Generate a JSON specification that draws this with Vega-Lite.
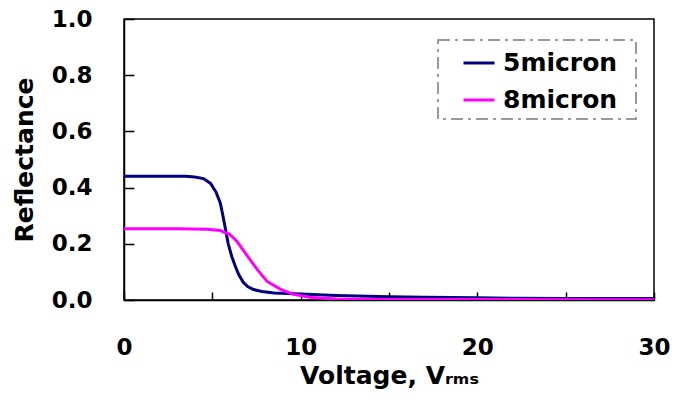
{
  "$schema": "https://vega.github.io/schema/vega-lite/v6.json",
  "width": 530,
  "height": 281,
  "autosize": {"type": "none"},
  "padding": {"left": 124, "top": 19, "right": 21, "bottom": 101},
  "background": "white",
  "config": {
    "view": {"stroke": "black", "strokeWidth": 1.5},
    "font": "DejaVu Sans",
    "axis": {
      "grid": false,
      "domainColor": "black",
      "domainWidth": 1.5,
      "tickColor": "black",
      "tickWidth": 1.5,
      "labelFont": "DejaVu Sans",
      "labelFontSize": 23,
      "labelFontWeight": "bold",
      "labelColor": "black",
      "titleFont": "DejaVu Sans",
      "titleFontSize": 25,
      "titleFontWeight": "bold",
      "titleColor": "black"
    },
    "legend": {
      "strokeColor": "#999999",
      "strokeWidth": 2,
      "strokeDash": [12, 5, 3, 5],
      "labelFont": "DejaVu Sans",
      "labelFontSize": 25,
      "labelFontWeight": "bold",
      "labelColor": "black"
    }
  },
  "data": {
    "values": [
      {"v": 0, "r": 0.44, "s": "5micron"},
      {"v": 2, "r": 0.44, "s": "5micron"},
      {"v": 3.5, "r": 0.44, "s": "5micron"},
      {"v": 4.0, "r": 0.438, "s": "5micron"},
      {"v": 4.5, "r": 0.432, "s": "5micron"},
      {"v": 4.9, "r": 0.415, "s": "5micron"},
      {"v": 5.2, "r": 0.385, "s": "5micron"},
      {"v": 5.45, "r": 0.345, "s": "5micron"},
      {"v": 5.6, "r": 0.3, "s": "5micron"},
      {"v": 5.75, "r": 0.25, "s": "5micron"},
      {"v": 5.9, "r": 0.2, "s": "5micron"},
      {"v": 6.1, "r": 0.155, "s": "5micron"},
      {"v": 6.3, "r": 0.12, "s": "5micron"},
      {"v": 6.5, "r": 0.09, "s": "5micron"},
      {"v": 6.75, "r": 0.063, "s": "5micron"},
      {"v": 7.0, "r": 0.048, "s": "5micron"},
      {"v": 7.3, "r": 0.038, "s": "5micron"},
      {"v": 7.8, "r": 0.03, "s": "5micron"},
      {"v": 8.5, "r": 0.025, "s": "5micron"},
      {"v": 10, "r": 0.021, "s": "5micron"},
      {"v": 12, "r": 0.016, "s": "5micron"},
      {"v": 15, "r": 0.012, "s": "5micron"},
      {"v": 17, "r": 0.01, "s": "5micron"},
      {"v": 20, "r": 0.008, "s": "5micron"},
      {"v": 22, "r": 0.006, "s": "5micron"},
      {"v": 25, "r": 0.005, "s": "5micron"},
      {"v": 30, "r": 0.005, "s": "5micron"},
      {"v": 0, "r": 0.254, "s": "8micron"},
      {"v": 3, "r": 0.254, "s": "8micron"},
      {"v": 4.7, "r": 0.252, "s": "8micron"},
      {"v": 5.45, "r": 0.247, "s": "8micron"},
      {"v": 6.0, "r": 0.233, "s": "8micron"},
      {"v": 6.4, "r": 0.208, "s": "8micron"},
      {"v": 7.0, "r": 0.155, "s": "8micron"},
      {"v": 7.55, "r": 0.108, "s": "8micron"},
      {"v": 8.1, "r": 0.066, "s": "8micron"},
      {"v": 8.9, "r": 0.037, "s": "8micron"},
      {"v": 9.6, "r": 0.02, "s": "8micron"},
      {"v": 10.5, "r": 0.01, "s": "8micron"},
      {"v": 12, "r": 0.004, "s": "8micron"},
      {"v": 15, "r": 0.002, "s": "8micron"},
      {"v": 30, "r": 0.001, "s": "8micron"}
    ]
  },
  "mark": {"type": "line", "strokeWidth": 3, "clip": true},
  "encoding": {
    "x": {
      "field": "v",
      "type": "quantitative",
      "scale": {"domain": [0, 30], "nice": false},
      "axis": {
        "title": "Voltage, Vᵣₘₛ",
        "values": [0, 5, 10, 15, 20, 25, 30],
        "labelExpr": "datum.value % 10 == 0 ? datum.label : ''",
        "tickSize": -8,
        "labelPadding": 44,
        "titlePadding": 4,
        "labelFlush": false,
        "labelOverlap": false
      }
    },
    "y": {
      "field": "r",
      "type": "quantitative",
      "scale": {"domain": [0, 1], "nice": false},
      "axis": {
        "title": "Reflectance",
        "values": [0, 0.2, 0.4, 0.6, 0.8, 1.0],
        "format": ".1f",
        "tickSize": -10,
        "labelPadding": 42,
        "titlePadding": 14,
        "labelFlush": false,
        "labelOverlap": false
      }
    },
    "color": {
      "field": "s",
      "type": "nominal",
      "scale": {"domain": ["5micron", "8micron"], "range": ["#000080", "#FF00FF"]},
      "legend": {
        "title": null,
        "orient": "none",
        "legendX": 314,
        "legendY": 21,
        "symbolType": "stroke",
        "symbolSize": 961,
        "symbolStrokeWidth": 3,
        "symbolOffset": 18,
        "labelOffset": 7,
        "labelExpr": "datum.label + '\u2002\u200b'",
        "padding": 6,
        "rowPadding": 7
      }
    }
  }
}
